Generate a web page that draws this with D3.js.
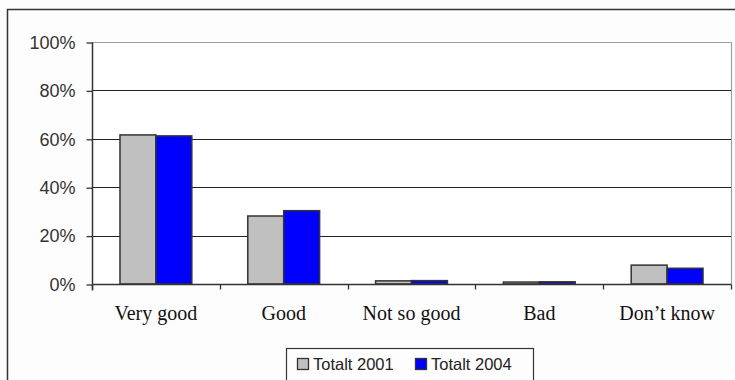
<!DOCTYPE html>
<html>
<head>
<meta charset="utf-8">
<script src="https://cdn.jsdelivr.net/npm/d3@7"></script>
<style>
  html, body { margin: 0; padding: 0; background: #fdfdfd; }
  svg { display: block; }
</style>
</head>
<body>
<svg id="chart" width="735" height="380"></svg>
<script>
// Answer categories and shares (%) per survey year
const categories = ["Very good", "Good", "Not so good", "Bad", "Don\u2019t know"];
const seriesNames = ["Totalt 2001", "Totalt 2004"];
const values2001 = [61.6, 28.1, 1.3, 0.8, 7.8];
const values2004 = [61.2, 30.3, 1.4, 0.9, 6.5];
const yTicks = [0, 20, 40, 60, 80, 100];

const series = [
  { name: seriesNames[0], values: values2001, color: "#c0c0c0" },
  { name: seriesNames[1], values: values2004, color: "#0000ff" }
];

const svg = d3.select("#chart");
const plot = { left: 92, right: 731, top: 42, bottom: 284 };

// outer frame of the chart
svg.append("path")
  .attr("d", "M7.5,380 V9.5 H735")
  .attr("fill", "none").attr("stroke", "#333").attr("stroke-width", 1.5);

const x = d3.scaleBand().domain(categories).range([plot.left, plot.right]).padding(0);
const inner = d3.scaleBand().domain(seriesNames)
  .range([x.bandwidth() * 0.219, x.bandwidth() * 0.781]).padding(0);
const y = d3.scaleLinear().domain([0, 100]).range([plot.bottom, plot.top]);

// plot area background and light border (top / right)
svg.append("rect")
  .attr("x", plot.left).attr("y", plot.top)
  .attr("width", plot.right - plot.left).attr("height", plot.bottom - plot.top)
  .attr("fill", "#ffffff");
svg.append("path")
  .attr("d", `M${plot.left},${y(100) + 0.5} H${plot.right + 0.5} V${plot.bottom}`)
  .attr("fill", "none").attr("stroke", "#a0a0a0").attr("stroke-width", 1.2);

// horizontal gridlines
svg.append("g").selectAll("line")
  .data(yTicks.filter(t => t > 0 && t < 100))
  .join("line")
  .attr("x1", plot.left).attr("x2", plot.right)
  .attr("y1", d => Math.round(y(d)) + 0.5).attr("y2", d => Math.round(y(d)) + 0.5)
  .attr("stroke", "#222").attr("stroke-width", 1.2);

// y axis
const yAxis = d3.axisLeft(y).tickValues(yTicks).tickFormat(d => d + "%").tickSize(6).tickPadding(11);
const gy = svg.append("g").attr("transform", `translate(${plot.left + 0.5},0.5)`).call(yAxis);
gy.select(".domain").attr("stroke", "#333").attr("stroke-width", 1.5).attr("d", `M0,${plot.top} V${plot.bottom + 6}`);
gy.selectAll(".tick line").attr("stroke", "#333").attr("stroke-width", 1.3);
gy.selectAll(".tick text")
  .attr("fill", "#333").attr("font-family", "Liberation Sans, Arial, sans-serif")
  .attr("font-size", 18);

// bars
const groups = svg.append("g").selectAll("g")
  .data(series).join("g");
groups.selectAll("rect")
  .data(s => s.values.map((v, i) => ({ v, cat: categories[i], name: s.name, color: s.color })))
  .join("rect")
  .attr("x", d => x(d.cat) + inner(d.name))
  .attr("width", inner.bandwidth())
  .attr("y", d => y(d.v))
  .attr("height", d => y(0) - y(d.v))
  .attr("fill", d => d.color)
  .attr("stroke", "#333").attr("stroke-width", 1.5);

// x axis baseline and category separators
const xAxisG = svg.append("g").attr("transform", `translate(0,${plot.bottom + 0.5})`);
xAxisG.append("line")
  .attr("x1", plot.left).attr("x2", plot.right + 0.5)
  .attr("stroke", "#333").attr("stroke-width", 1.5);
xAxisG.selectAll(".sep")
  .data(categories.map(c => x(c)).concat([plot.right]))
  .join("line").attr("class", "sep")
  .attr("x1", d => Math.round(d) + 0.5).attr("x2", d => Math.round(d) + 0.5)
  .attr("y1", 0).attr("y2", 5)
  .attr("stroke", "#333").attr("stroke-width", 1.3);
xAxisG.selectAll("text")
  .data(categories)
  .join("text")
  .attr("x", d => x(d) + x.bandwidth() / 2)
  .attr("y", 35)
  .attr("text-anchor", "middle")
  .attr("font-family", "Liberation Serif, Times New Roman, serif")
  .attr("font-size", 20)
  .attr("fill", "#111")
  .text(d => d);

// legend
const legend = svg.append("g");
legend.append("rect")
  .attr("x", 286.5).attr("y", 348.5).attr("width", 247).attr("height", 40)
  .attr("fill", "#fdfdfd").attr("stroke", "#333").attr("stroke-width", 1.2);
const legendX = [297, 415];
const items = legend.selectAll("g.item").data(series).join("g").attr("class", "item")
  .attr("transform", (d, i) => `translate(${legendX[i]},0)`);
items.append("rect")
  .attr("x", 0.5).attr("y", 358.5).attr("width", 11).attr("height", 11)
  .attr("fill", d => d.color).attr("stroke", "#333").attr("stroke-width", 1.3);
items.append("text")
  .attr("x", 16).attr("y", 370)
  .attr("font-family", "Liberation Sans, Arial, sans-serif")
  .attr("font-size", 16.5)
  .attr("fill", "#222")
  .text(d => d.name);
</script>
</body>
</html>
